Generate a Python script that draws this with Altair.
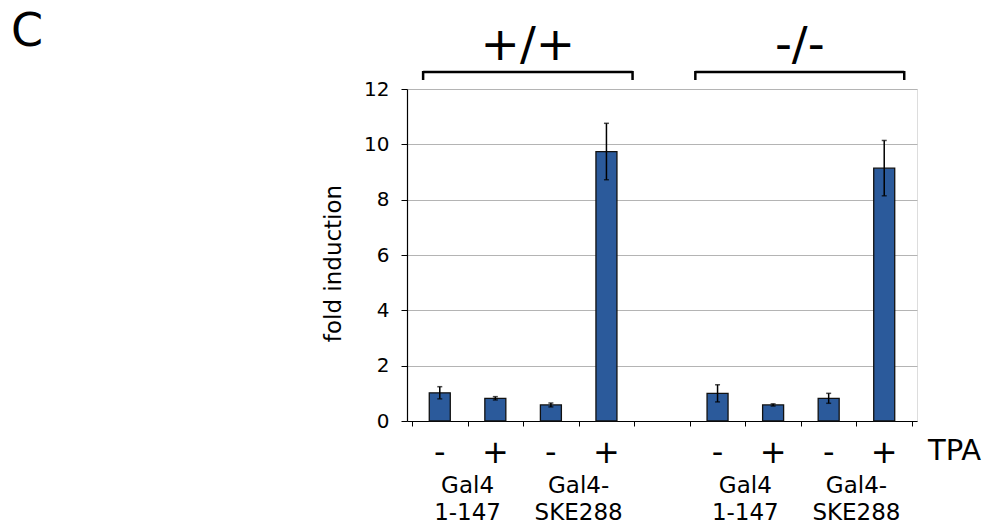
import altair as alt
import pandas as pd

# ---- data ----
slots = [0, 1, 2, 3, 5, 6, 7, 8]          # slot index (slot 4 is the gap between genotypes)
genotype = ["+/+"] * 4 + ["-/-"] * 4
tpa = ["-", "+", "-", "+", "-", "+", "-", "+"]
fold = [1.02, 0.82, 0.58, 9.74, 1.00, 0.58, 0.82, 9.14]
err = [0.22, 0.06, 0.07, 1.02, 0.31, 0.04, 0.18, 1.00]

construct_labels = ["Gal4\n1-147", "Gal4-\nSKE288", "Gal4\n1-147", "Gal4-\nSKE288"]
construct_pos = [1, 3, 6, 8]

geno_labels = ["+/+", "-/-"]
bracket_start = [0.2, 5.1]
bracket_end = [3.97, 8.86]

y_ticks = [0, 2, 4, 6, 8, 10, 12]
x_ticks = list(range(10))

FONT = "DejaVu Sans"
W, H = 510, 332

df = pd.DataFrame({"slot": slots, "genotype": genotype, "tpa": tpa,
                   "fold": fold, "err": err})
df["x"] = df["slot"] + 0.5
df["lo"] = df["fold"] - df["err"]
df["hi"] = df["fold"] + df["err"]

cons = pd.DataFrame({"label": construct_labels, "x": construct_pos})
geno = pd.DataFrame({"label": geno_labels, "x0": bracket_start, "x1": bracket_end})
geno["xc"] = (geno["x0"] + geno["x1"]) / 2

xscale = alt.Scale(domain=[0, 9], nice=False, zero=False)
yscale = alt.Scale(domain=[0, 12], nice=False)

bars = alt.Chart(df).mark_bar(size=21, color="#2b5a9b", stroke="#111111",
                              strokeWidth=1.3).encode(
    x=alt.X("x:Q", scale=xscale,
            axis=alt.Axis(values=x_ticks, labels=False, grid=False, tickSize=5,
                          domainColor="#000000", tickColor="#000000",
                          domainWidth=1.2, tickWidth=1, title=None)),
    y=alt.Y("fold:Q", scale=yscale,
            axis=alt.Axis(values=y_ticks, grid=True, gridColor="#b4b4b4",
                          tickSize=6, tickColor="#000000", domainColor="#000000",
                          domainWidth=1.2, labelFont=FONT, labelFontSize=20,
                          labelColor="#000000", labelPadding=12,
                          title="fold induction", titleFont=FONT,
                          titleFontSize=23, titleFontWeight="normal",
                          titleColor="#000000", titlePadding=18, titleY=174)),
)

rules = alt.Chart(df).mark_rule(color="#000000", strokeWidth=1.5).encode(
    x="x:Q", y="lo:Q", y2="hi:Q")

caps_hi = alt.Chart(df).mark_tick(orient="horizontal", size=5, thickness=1.5,
                                   color="#000000").encode(x="x:Q", y="hi:Q")
caps_lo = alt.Chart(df).mark_tick(orient="horizontal", size=5, thickness=1.5,
                                   color="#000000").encode(x="x:Q", y="lo:Q")

tpa_text = alt.Chart(df).mark_text(font=FONT, fontSize=32, align="center",
                                   baseline="alphabetic", color="#000000").encode(
    x="x:Q", y=alt.value(374), text="tpa:N")

tpa_title = alt.Chart(pd.DataFrame({"t": ["TPA"]})).mark_text(
    font=FONT, fontSize=29, align="left", baseline="alphabetic",
    color="#000000").encode(x=alt.value(521), y=alt.value(371), text="t:N")

cons_text = alt.Chart(cons).mark_text(font=FONT, fontSize=23, align="center",
                                      baseline="alphabetic", lineBreak="\n",
                                      lineHeight=27, color="#000000").encode(
    x="x:Q", y=alt.value(404), text="label:N")

geno_text = alt.Chart(geno).mark_text(font=FONT, fontSize=47, align="center",
                                      baseline="alphabetic", color="#000000").encode(
    x="xc:Q", y=alt.value(-29), text="label:N")

br_h = alt.Chart(geno).mark_rule(color="#000000", strokeWidth=2.5).encode(
    x="x0:Q", x2="x1:Q", y=alt.value(-17))
br_l = alt.Chart(geno).mark_rule(color="#000000", strokeWidth=2.5).encode(
    x="x0:Q", y=alt.value(-18), y2=alt.value(-9))
br_r = alt.Chart(geno).mark_rule(color="#000000", strokeWidth=2.5).encode(
    x="x1:Q", y=alt.value(-18), y2=alt.value(-9))

panel = alt.Chart(pd.DataFrame({"t": ["C"]})).mark_text(
    font=FONT, fontSize=46, align="left", baseline="alphabetic",
    color="#000000").encode(x=alt.value(-396), y=alt.value(-43), text="t:N")

chart = alt.layer(
    bars, rules, caps_hi, caps_lo, tpa_text, tpa_title, cons_text,
    geno_text, br_h, br_l, br_r, panel
).properties(
    width=W, height=H,
    autosize=alt.AutoSizeParams(type="none"),
    padding={"left": 407, "top": 89, "right": 70, "bottom": 107},
).configure_view(stroke=None).configure(background="#ffffff")

chart.save("out.html", embed_options={"renderer": "svg", "actions": False})
